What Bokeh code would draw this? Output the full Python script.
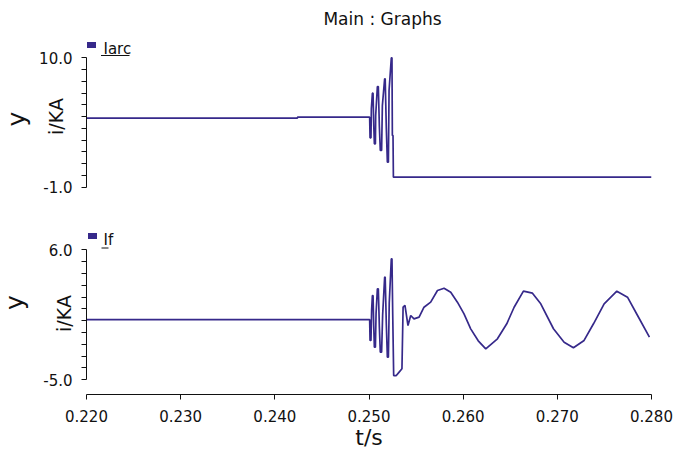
import math
from bokeh.plotting import figure
from bokeh.layouts import column, row
from bokeh.models import Range1d, FixedTicker, PrintfTickFormatter, Label
from bokeh.embed import file_html
from bokeh.resources import INLINE

# ---------------- data ----------------
t_arc = [0.2200, 0.2424, 0.2424, 0.25007, 0.25011, 0.25021, 0.25025, 0.25036, 0.25043,
         0.25050, 0.25057, 0.25068, 0.25071, 0.25089, 0.25099, 0.25110, 0.25120, 0.25134,
         0.25142, 0.25166, 0.25172, 0.25184, 0.25195, 0.25206, 0.25213, 0.25237, 0.25244,
         0.25248, 0.25255, 0.25259, 0.2800]
i_arc = [4.87, 4.87, 4.95, 4.95, 3.20, 3.20, 5.66, 6.99, 6.99,
         4.39, 2.69, 2.69, 5.10, 7.56, 7.56, 4.20, 2.12, 2.12,
         5.94, 8.21, 8.21, 4.00, 1.13, 1.13, 7.22, 10.0, 10.0,
         3.40, 3.40, -0.15, -0.15]

t_f = [0.2200, 0.25007, 0.25011, 0.25021, 0.25028, 0.25036, 0.25043, 0.25050, 0.25057,
       0.25068, 0.25075, 0.25089, 0.25099, 0.25110, 0.25120, 0.25134, 0.25145, 0.25166,
       0.25172, 0.25184, 0.25195, 0.25206, 0.25215, 0.25237, 0.25244, 0.25252, 0.25262,
       0.25290, 0.25320, 0.25350, 0.25362, 0.25382, 0.25414, 0.25443, 0.25478, 0.25532,
       0.25584, 0.25655, 0.25727, 0.25797, 0.25868, 0.25939, 0.26009, 0.26080, 0.26160,
       0.26240, 0.26364, 0.26463, 0.26541, 0.26640, 0.26736, 0.26824, 0.26959, 0.27072,
       0.27171, 0.27284, 0.27384, 0.27497, 0.27632, 0.27745, 0.27852, 0.27978]
i_f = [0.10, 0.10, -1.67, -1.67, 0.90, 2.13, 2.13, -0.40, -2.24,
       -2.24, 0.60, 2.70, 2.70, -0.50, -2.66, -2.66, 0.50, 3.68,
       3.68, -0.30, -3.09, -3.09, 1.50, 5.24, 5.24, 0.50, -4.64,
       -4.64, -4.35, -4.07, 1.14, 1.29, -0.41, 0.44, 0.16, 0.30,
       1.14, 1.57, 2.56, 2.75, 2.41, 1.57, 0.58, -0.69, -1.70,
       -2.38, -1.53, -0.26, 1.14, 2.50, 2.33, 1.43, -0.68, -1.82,
       -2.29, -1.67, -0.26, 1.43, 2.50, 1.99, 0.44, -1.39]

x_ticks = [0.22, 0.23, 0.24, 0.25, 0.26, 0.27, 0.28]
top_major = [-1.0, 10.0]
top_minor = [0, 1, 2, 3, 4, 5, 6, 7, 8, 9]
bot_major = [-5.0, 6.0]
bot_minor = [-4, -3, -2, -1, 0, 1, 2, 3, 4, 5]

# ---------------- layout constants ----------------
W, H = 673, 456
WS = 36                      # left strip holding the "y" texts
X0, X1 = 0.220, 0.280
FL, FR = 86, 651             # frame edges in canvas pixels
PXS = (FR - FL) / (X1 - X0)
FONT = "DejaVu Sans"
INK = "#111111"
LINE = "#36298a"

def px2x(px):
    return X0 + (px - FL) / PXS

H1 = 232                     # top figure rows 0..232
k1 = (186.7 - 57.3) / 11.0
def py2y1(py):
    return 10.0 + (57.3 - py) / k1

TOP2 = H1                    # bottom figure rows 232..456, frame to 394
FB2 = 394
k2 = (379.3 - 249.3) / 11.0
def py2y2(py):
    return 6.0 + (249.3 - py) / k2


def style(p, major, minor, bounds, label_standoff):
    p.xgrid.visible = False
    p.ygrid.visible = False
    p.outline_line_color = None
    p.background_fill_color = "white"
    p.border_fill_color = "white"
    ax = p.yaxis[0]
    ax.ticker = FixedTicker(ticks=major, minor_ticks=minor)
    ax.formatter = PrintfTickFormatter(format="%.1f")
    ax.bounds = bounds
    ax.axis_line_color = INK
    ax.major_tick_line_color = INK
    ax.minor_tick_line_color = INK
    ax.major_tick_in = 0
    ax.major_tick_out = 5
    ax.minor_tick_in = 0
    ax.minor_tick_out = 5
    ax.major_label_standoff = 9
    ax.major_label_text_font = FONT
    ax.major_label_text_font_size = "15px"
    ax.major_label_text_color = INK
    ax.axis_label = "i/KA"
    ax.axis_label_text_font = FONT
    ax.axis_label_text_font_size = "19px"
    ax.axis_label_text_font_style = "normal"
    ax.axis_label_text_color = INK
    ax.axis_label_standoff = label_standoff


p1 = figure(width=W - WS, height=H1, output_backend="svg", toolbar_location=None,
            x_axis_location=None,
            x_range=Range1d(X0, X1),
            y_range=Range1d(py2y1(H1), py2y1(0)),
            min_border_left=FL - WS, min_border_right=W - FR,
            min_border_top=0, min_border_bottom=0)
style(p1, top_major, top_minor, (-1.0, 10.0), -31)
p1.line(t_arc, i_arc, line_color=LINE, line_width=1.7)

p2 = figure(width=W - WS, height=H - TOP2, output_backend="svg", toolbar_location=None,
            x_range=p1.x_range,
            y_range=Range1d(py2y2(FB2), py2y2(TOP2)),
            min_border_left=FL - WS, min_border_right=W - FR,
            min_border_top=0, min_border_bottom=H - FB2)
style(p2, bot_major, bot_minor, (-5.0, 6.0), -35)
p2.line(t_f, i_f, line_color=LINE, line_width=1.7)
xa = p2.xaxis[0]
xa.ticker = FixedTicker(ticks=x_ticks)
xa.formatter = PrintfTickFormatter(format="%.3f")
xa.bounds = (X0, X1)
xa.axis_line_color = INK
xa.major_tick_line_color = INK
xa.minor_tick_line_color = None
xa.major_tick_in = 0
xa.major_tick_out = 5
xa.major_label_standoff = 10
xa.major_label_text_font = FONT
xa.major_label_text_font_size = "15px"
xa.major_label_text_color = INK
xa.axis_label = "t/s"
xa.axis_label_text_font = FONT
xa.axis_label_text_font_size = "22px"
xa.axis_label_text_font_style = "normal"
xa.axis_label_text_color = INK
xa.axis_label_standoff = 0

# left strip with the large "y" texts (pixel coordinates, y downwards)
strip = figure(width=WS, height=H, output_backend="svg", toolbar_location=None,
               x_axis_location=None, y_axis_location=None,
               x_range=Range1d(0, WS), y_range=Range1d(H, 0),
               min_border=0, outline_line_color=None)
strip.grid.visible = False
for yx, yy in ((16, 118.5), (14, 302)):
    strip.add_layout(Label(x=yx, y=yy, text="y", angle=math.pi / 2,
                           text_align="center", text_baseline="middle",
                           text_font=FONT, text_font_size="25px", text_color=INK))

# ---------------- title and legend ----------------
def lab(p, conv, px, py, text, size, align="center"):
    p.add_layout(Label(x=px2x(px), y=conv(py), text=text,
                       text_align=align, text_baseline="middle",
                       text_font=FONT, text_font_size=size, text_color=INK))

lab(p1, py2y1, 382, 18, "Main : Graphs", "17px")

p1.rect(x=[px2x(91)], y=[py2y1(44.5)], width=9, height=6, width_units="screen",
        height_units="screen", fill_color=LINE, line_color=None)
lab(p1, py2y1, 103, 48.5, "Iarc", "15px", align="left")
p1.segment(x0=[px2x(100.5)], y0=[py2y1(55)], x1=[px2x(129)], y1=[py2y1(55)],
           line_color=INK, line_width=1)

p2.rect(x=[px2x(92)], y=[py2y2(235.5)], width=9, height=6, width_units="screen",
        height_units="screen", fill_color=LINE, line_color=None)
lab(p2, py2y2, 103, 239.5, "If", "15px", align="left")
p2.segment(x0=[px2x(101)], y0=[py2y2(247.5)], x1=[px2x(108)], y1=[py2y2(247.5)],
           line_color=INK, line_width=1)

layout = row(strip, column(p1, p2, spacing=0), spacing=0)
open("out.html", "w").write(file_html(layout, INLINE))
